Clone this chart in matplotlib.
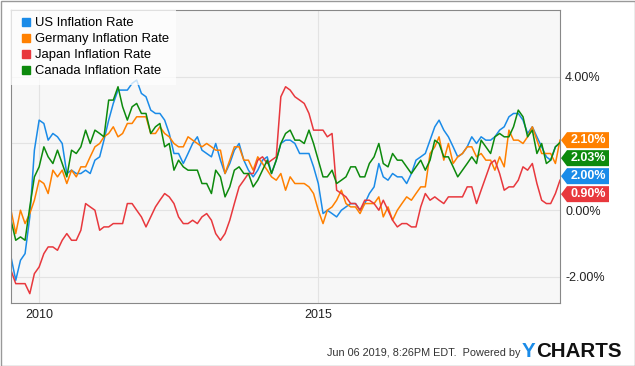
import matplotlib
matplotlib.use("Agg")
import matplotlib.pyplot as plt
import matplotlib.dates as mdates
from matplotlib.patches import Polygon, Rectangle
from matplotlib.lines import Line2D
from matplotlib.transforms import IdentityTransform
import pandas as pd

plt.rcParams["font.family"] = ["Liberation Sans", "DejaVu Sans"]

# Monthly YoY inflation, Jun 2009 .. Apr 2019 (month-end dates)
dates = pd.date_range("2009-06-30", "2019-04-30", freq=pd.offsets.MonthEnd())

us = [
    -1.4, -2.1, -1.5, -1.3, -0.2, 1.8, 2.7,
    2.6, 2.1, 2.3, 2.2, 2.0, 1.1, 1.2, 1.1, 1.1, 1.2, 1.1, 1.5,
    1.6, 2.1, 2.7, 3.2, 3.6, 3.6, 3.6, 3.8, 3.9, 3.5, 3.4, 3.0,
    2.9, 2.9, 2.7, 2.3, 1.7, 1.7, 1.4, 1.7, 2.0, 2.2, 1.8, 1.7,
    1.6, 2.0, 1.5, 1.1, 1.4, 1.8, 2.0, 1.5, 1.2, 1.0, 1.2, 1.5,
    1.6, 1.1, 1.5, 2.0, 2.1, 2.1, 2.0, 1.7, 1.7, 1.7, 1.3, 0.8,
    -0.1, 0.0, -0.1, -0.2, 0.0, 0.1, 0.2, 0.2, 0.0, 0.2, 0.5, 0.7,
    1.4, 1.0, 0.9, 1.1, 1.0, 1.0, 0.8, 1.1, 1.5, 1.6, 1.7, 2.1,
    2.5, 2.7, 2.4, 2.2, 1.9, 1.6, 1.7, 1.9, 2.2, 2.0, 2.2, 2.1,
    2.1, 2.2, 2.4, 2.5, 2.8, 2.9, 2.9, 2.7, 2.3, 2.5, 2.2, 1.9,
    1.6, 1.5, 1.9, 2.0,
]
germany = [
    0.0, -0.7, 0.0, -0.4, -0.1, 0.3, 0.9,
    0.8, 0.5, 1.2, 1.0, 1.2, 0.8, 1.2, 1.0, 1.3, 1.3, 1.6, 1.9,
    2.0, 2.2, 2.3, 2.5, 2.2, 2.3, 2.6, 2.6, 2.8, 2.8, 2.8, 2.3,
    2.3, 2.5, 2.3, 2.2, 2.0, 1.9, 1.9, 2.2, 2.1, 2.0, 1.9, 2.0,
    1.9, 1.8, 1.8, 1.1, 1.5, 1.9, 1.9, 1.5, 1.5, 1.2, 1.6, 1.4,
    1.2, 1.0, 0.9, 1.1, 0.6, 1.0, 0.8, 0.8, 0.8, 0.7, 0.5, 0.0,
    -0.4, 0.0, 0.1, 0.3, 0.6, 0.2, 0.1, 0.1, -0.1, 0.2, 0.2, 0.2,
    0.4, -0.2, 0.1, -0.3, 0.0, 0.2, 0.4, 0.3, 0.5, 0.7, 0.7, 1.7,
    1.9, 2.2, 1.5, 2.0, 1.4, 1.6, 1.7, 1.9, 1.9, 1.6, 1.7, 1.5,
    1.5, 1.2, 1.6, 1.3, 2.4, 2.1, 2.1, 2.0, 2.2, 2.5, 2.1, 1.7,
    1.7, 1.7, 1.4, 2.1,
]
japan = [
    -1.8, -2.2, -2.2, -2.2, -2.5, -1.9, -1.7,
    -1.3, -1.1, -1.1, -1.2, -0.9, -0.7, -0.9, -0.9, -0.6, 0.2, 0.1, 0.0,
    -0.6, -0.5, -0.5, -0.4, -0.4, -0.4, 0.2, 0.2, 0.0, -0.2, -0.5, -0.2,
    0.1, 0.3, 0.5, 0.4, 0.2, -0.2, -0.4, -0.4, -0.3, -0.4, -0.2, -0.1,
    -0.3, -0.7, -0.9, -0.7, -0.3, 0.2, 0.7, 0.9, 1.1, 1.1, 1.5, 1.6,
    1.4, 1.5, 1.6, 3.4, 3.7, 3.6, 3.4, 3.3, 3.2, 2.9, 2.4, 2.4,
    2.4, 2.2, 2.3, 0.6, 0.5, 0.4, 0.2, 0.2, 0.0, 0.3, 0.3, 0.2,
    0.0, 0.3, 0.0, -0.3, -0.5, -0.4, -0.4, -0.5, -0.5, 0.1, 0.5, 0.3,
    0.4, 0.3, 0.2, 0.4, 0.4, 0.4, 0.4, 0.7, 0.7, 0.2, 0.6, 1.0,
    1.4, 1.5, 1.1, 0.6, 0.7, 0.7, 0.9, 1.3, 1.2, 1.4, 0.8, 0.3,
    0.2, 0.2, 0.5, 0.9,
]
canada = [
    -0.3, -0.9, -0.8, -0.9, 0.1, 1.0, 1.3,
    1.9, 1.6, 1.4, 1.8, 1.4, 1.0, 1.8, 1.7, 1.9, 2.4, 2.0, 2.4,
    2.3, 2.2, 3.3, 3.3, 3.7, 3.1, 2.7, 3.1, 3.2, 2.9, 2.9, 2.3,
    2.5, 2.6, 1.9, 2.0, 1.2, 1.5, 1.3, 1.2, 1.2, 1.2, 0.8, 0.8,
    0.5, 1.2, 1.0, 0.4, 0.7, 1.2, 1.3, 1.1, 1.1, 0.7, 0.9, 1.2,
    1.5, 1.1, 1.5, 2.0, 2.3, 2.4, 2.1, 2.1, 2.0, 2.4, 2.0, 1.5,
    1.0, 1.0, 1.2, 0.8, 0.9, 1.0, 1.3, 1.3, 1.0, 1.0, 1.4, 1.6,
    2.0, 1.4, 1.3, 1.7, 1.5, 1.5, 1.3, 1.1, 1.3, 1.5, 1.2, 1.5,
    2.1, 2.0, 1.6, 1.6, 1.3, 1.0, 1.2, 1.4, 1.6, 1.4, 2.1, 1.9,
    1.7, 2.2, 2.3, 2.2, 2.2, 2.5, 3.0, 2.8, 2.2, 2.4, 1.7, 2.0,
    1.4, 1.5, 1.9, 2.03,
]

names = ["US Inflation Rate", "Germany Inflation Rate",
         "Japan Inflation Rate", "Canada Inflation Rate"]
colors = ["#1a8be8", "#ff8000", "#e8383d", "#0d8a0d"]
series = [us, germany, japan, canada]
last_labels = ["2.00%", "2.10%", "0.90%", "2.03%"]
ytick_vals = [-2, 0, 2, 4]
ytick_labels = ["-2.00%", "0.00%", "2.00%", "4.00%"]

W, H = 635, 366
fig = plt.figure(figsize=(W / 100, H / 100), dpi=100)
fig.patch.set_facecolor("white")
fig.add_artist(Rectangle((0.5 / W, 0.5 / H), (W - 1) / W, (H - 1) / H,
                         transform=fig.transFigure, fill=False,
                         edgecolor="#999999", lw=1))

ax = fig.add_axes([11 / W, (H - 303) / H, 549 / W, 293 / H])
ax.set_facecolor("#f7f7f7")
for sp in ax.spines.values():
    sp.set_color("#888888")
    sp.set_linewidth(0.8)

for vals, name, c in zip(series, names, colors):
    ax.plot(dates, vals, color=c, lw=1.1, label=name)

ax.set_xlim(dates[0], dates[-1])
ax.set_ylim(-2.78, 6.0)
ax.set_yticks(ytick_vals)
ax.set_yticklabels(ytick_labels)
ax.yaxis.tick_right()
ax.tick_params(axis="y", length=0, pad=3.6, labelsize=9, labelcolor="#222222")
ax.xaxis.set_major_locator(mdates.YearLocator(5))
ax.xaxis.set_major_formatter(mdates.DateFormatter("%Y"))
ax.tick_params(axis="x", length=0, pad=4.5, labelsize=9, labelcolor="#222222")
ax.grid(color="#e3e3e3", lw=0.8)
ax.set_axisbelow(True)

handles = [Line2D([], [], marker="s", ls="none", color=c, markersize=6) for c in colors]
ax.legend(handles, names, loc="upper left", bbox_to_anchor=(0, 1),
          borderaxespad=0, fancybox=False, framealpha=0.75, facecolor="white",
          edgecolor="none", fontsize=9.4, handlelength=1.15, handletextpad=0.15,
          labelspacing=0.3, borderpad=0.55)

# last-value flags on the right, stacked so they don't overlap
x_last = mdates.date2num(dates[-1])
order = sorted(range(len(series)), key=lambda i: -series[i][-1])
prev = None
for i in order:
    yc = ax.transData.transform((x_last, series[i][-1]))[1]
    if prev is not None and yc > prev - 18:
        yc = prev - 18
    prev = yc
    pts = [(561, yc), (567, yc + 8), (609, yc + 8), (609, yc - 8), (567, yc - 8)]
    fig.add_artist(Polygon(pts, closed=True, transform=IdentityTransform(),
                           facecolor=colors[i], edgecolor="none", zorder=5))
    fig.text(588, yc, last_labels[i], transform=IdentityTransform(),
             ha="center", va="center", color="white", fontsize=9,
             fontweight="bold", zorder=6)

# footer
fig.text(327, H - 356, "Jun 06 2019, 8:26PM EDT.  Powered by",
         transform=IdentityTransform(), fontsize=7.8, color="#333333",
         ha="left", va="baseline")
fig.text(522, H - 357, "Y", transform=IdentityTransform(), fontsize=14.8,
         fontweight="bold", color="#1a8be8", ha="left", va="baseline")
fig.text(536, H - 357, "CHARTS", transform=IdentityTransform(), fontsize=14.8,
         fontweight="bold", color="#111111", ha="left", va="baseline")

fig.savefig("out.png", dpi=100)
plt.close(fig)
